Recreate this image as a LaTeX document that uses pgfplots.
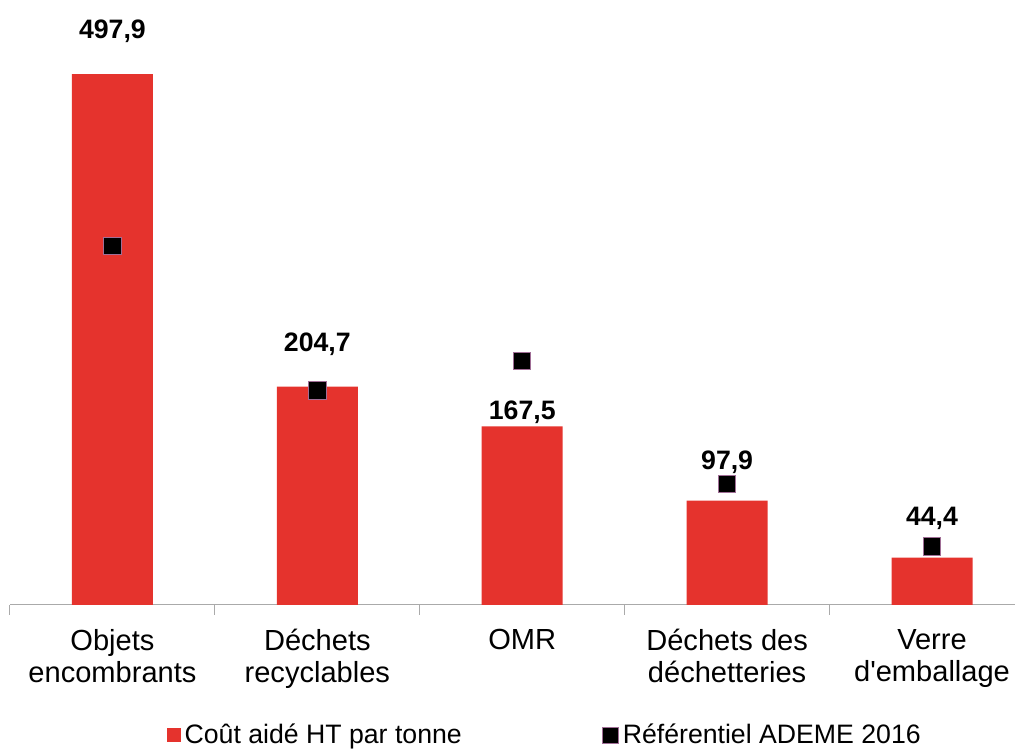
\documentclass[border=0pt]{standalone}
\usepackage{pgfplots}
\pgfplotsset{compat=1.18}
\usepackage{fontspec}
\setmainfont{Liberation Sans}
\definecolor{barred}{RGB}{229,51,45}
\definecolor{mkedge}{RGB}{160,110,150}
\definecolor{axgray}{RGB}{170,170,170}
\begin{document}
\begin{tikzpicture}
\useasboundingbox (-7.5pt,-108pt) rectangle (753.75pt,453.75pt);
\begin{axis}[
  at={(0,0)}, anchor=south west,
  scale only axis,
  width=753.75pt, height=453.75pt,
  xmin=-0.5, xmax=4.405,
  ymin=0, ymax=567.3,
  axis x line*=bottom,
  axis y line=none,
  axis line style={axgray, line width=0.75pt},
  xtick={0,1,2,3,4},
  xticklabels={{Objets\\encombrants},{Déchets\\recyclables},{OMR},{Déchets des\\déchetteries},{Verre\\d\textquotesingle emballage}},
  major tick length=0pt,
  minor xtick={-0.5,0.5,1.5,2.5,3.5},
  minor tick length=7.5pt,
  tick align=outside,
  minor tick style={axgray, line width=0.75pt},
  xticklabel style={font=\fontsize{21.8}{24}\selectfont, align=center, anchor=north, yshift=-14.5pt},
  clip=false,
  legend columns=2,
  legend style={draw=none, fill=none, at={(0.533,-0.215)}, anchor=center,
    font=\fontsize{20}{22}\selectfont,
    /tikz/every even column/.append style={column sep=103pt},
    nodes={inner sep=2.5pt}},
  legend cell align=left,
]
\addplot[ybar, bar width=60.75pt, fill=barred, draw=none,
  legend image code/.code={\fill[barred] (1pt,-5.25pt) rectangle (11.5pt,5.25pt);}]
  coordinates {(0,497.9) (1,204.7) (2,167.5) (3,97.9) (4,44.4)};
\addlegendentry{Coût aidé HT par tonne}
\addplot[only marks, mark=square*, mark size=6.5pt,
  mark options={fill=black, draw=mkedge, line width=0.75pt},
  legend image code/.code={\draw[mkedge, fill=black, line width=0.75pt] (0pt,-6pt) rectangle (12pt,6pt);}]
  coordinates {(0,336.5) (1,201) (2,229) (3,113.5) (4,55)};
\addlegendentry{Référentiel ADEME 2016}
\addplot[only marks, mark=none, forget plot, nodes near coords, point meta=explicit symbolic,
  nodes near coords style={anchor=base, font=\fontsize{20}{24}\selectfont\bfseries, inner sep=0pt}]
  table[meta=label] {
x y label
0 531.6 497,9
1 237.5 204,7
2 173.5 167,5
3 126.6 97,9
4 75.0 44,4
};
\end{axis}
\end{tikzpicture}
\end{document}
